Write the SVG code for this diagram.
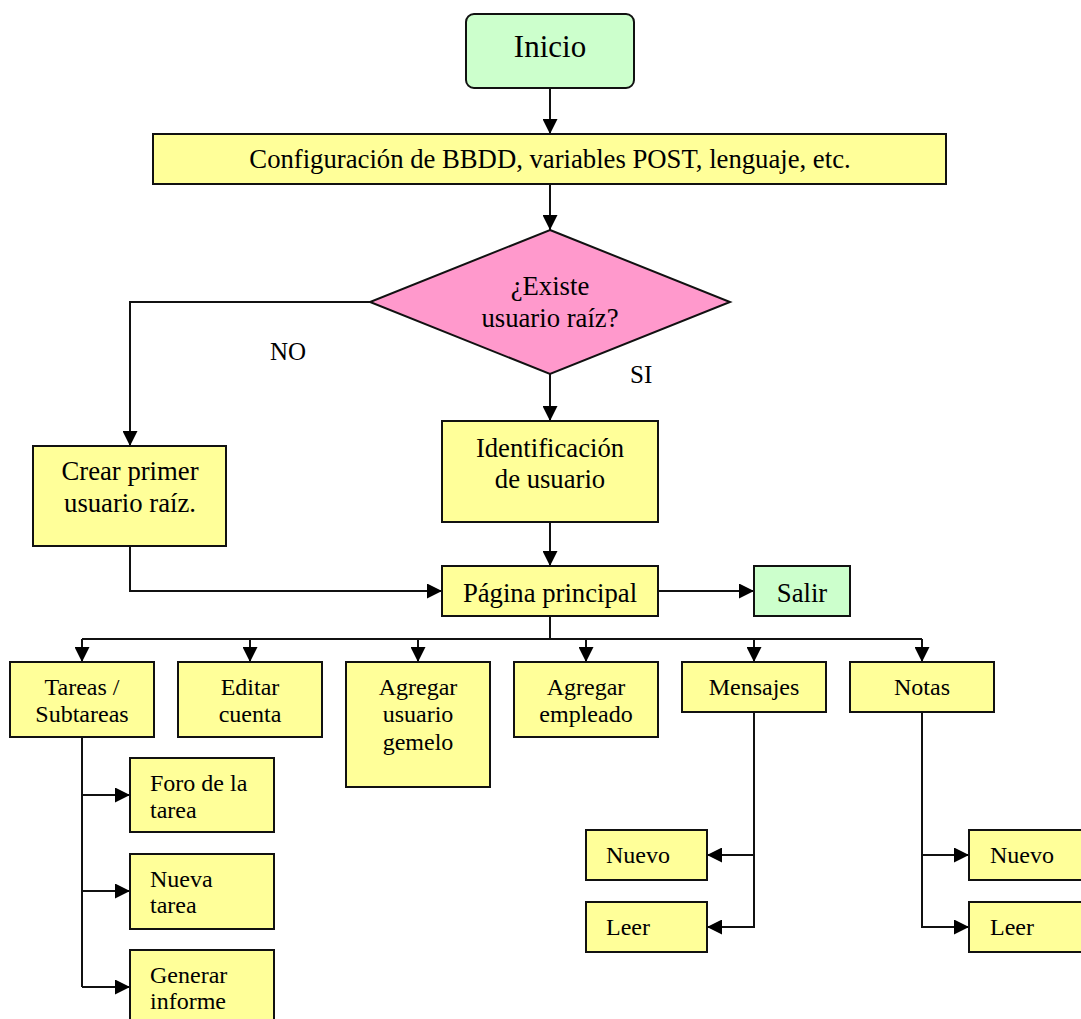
<svg xmlns="http://www.w3.org/2000/svg" width="1081" height="1019" viewBox="0 0 1081 1019">
<style>
.box{fill:#FFFF99;stroke:#111;stroke-width:2}
.green{fill:#CCFFCC;stroke:#111;stroke-width:2}
.dia{fill:#FF99CC;stroke:#111;stroke-width:2}
.t{font-family:"Liberation Serif","Times New Roman",serif;fill:#000}
.big{font-size:26.7px;text-anchor:middle}
.sm{font-size:24px;text-anchor:middle}
.sl{font-size:24px;text-anchor:start}
.lbl{font-size:25px}
.c{fill:none;stroke:#111;stroke-width:2}
</style>
<defs>
<marker id="ah" markerUnits="userSpaceOnUse" markerWidth="15" markerHeight="15" refX="15" refY="7.5" orient="auto">
<path d="M0,0 L15,7.5 L0,15 z" fill="#000"/>
</marker>
</defs>
<rect width="1081" height="1019" fill="#fff"/>
<g id="connectors">
<path class="c" d="M550,88 V134" marker-end="url(#ah)"/>
<path class="c" d="M550,184 V230" marker-end="url(#ah)"/>
<path class="c" d="M370,302 H130 V446" marker-end="url(#ah)"/>
<path class="c" d="M550,374 V421" marker-end="url(#ah)"/>
<path class="c" d="M550,522 V566" marker-end="url(#ah)"/>
<path class="c" d="M130,546 V591 H442" marker-end="url(#ah)"/>
<path class="c" d="M658,591 H754" marker-end="url(#ah)"/>
<path class="c" d="M550,616 V639 M82,639 H922"/>
<path class="c" d="M82,639 V662" marker-end="url(#ah)"/>
<path class="c" d="M250,639 V662" marker-end="url(#ah)"/>
<path class="c" d="M418,639 V662" marker-end="url(#ah)"/>
<path class="c" d="M586,639 V662" marker-end="url(#ah)"/>
<path class="c" d="M754,639 V662" marker-end="url(#ah)"/>
<path class="c" d="M922,639 V662" marker-end="url(#ah)"/>
<path class="c" d="M82,737 V987"/>
<path class="c" d="M82,795 H130" marker-end="url(#ah)"/>
<path class="c" d="M82,891 H130" marker-end="url(#ah)"/>
<path class="c" d="M82,987 H130" marker-end="url(#ah)"/>
<path class="c" d="M754,712 V927 H707" marker-end="url(#ah)"/>
<path class="c" d="M754,855 H707" marker-end="url(#ah)"/>
<path class="c" d="M922,712 V927 H969" marker-end="url(#ah)"/>
<path class="c" d="M922,855 H969" marker-end="url(#ah)"/>
</g>
<g id="labels">
<text class="t lbl" x="270" y="360">NO</text>
<text class="t lbl" x="630" y="383">SI</text>
</g>
<g id="inicio">
<rect class="green" x="466" y="14" width="168" height="74" rx="8"/>
<text class="t" x="550" y="57" font-size="31" text-anchor="middle">Inicio</text>
</g>
<g id="config">
<rect class="box" x="153" y="134" width="793" height="50"/>
<text class="t big" x="550" y="168">Configuración de BBDD, variables POST, lenguaje, etc.</text>
</g>
<g id="existe">
<polygon class="dia" points="550,230 730,302 550,374 370,302"/>
<text class="t big" x="550" y="295">¿Existe</text>
<text class="t big" x="550" y="327">usuario raíz?</text>
</g>
<g id="crear">
<rect class="box" x="33" y="446" width="193" height="100"/>
<text class="t big" x="130" y="480">Crear primer</text>
<text class="t big" x="130" y="512">usuario raíz.</text>
</g>
<g id="identificacion">
<rect class="box" x="442" y="421" width="216" height="101"/>
<text class="t big" x="550" y="457">Identificación</text>
<text class="t big" x="550" y="488">de usuario</text>
</g>
<g id="pagina">
<rect class="box" x="442" y="566" width="216" height="50"/>
<text class="t big" x="550" y="602">Página principal</text>
</g>
<g id="salir">
<rect class="green" x="754" y="566" width="96" height="50"/>
<text class="t big" x="802" y="602">Salir</text>
</g>
<g id="tareas">
<rect class="box" x="10" y="662" width="144" height="75"/>
<text class="t sm" x="82" y="695">Tareas /</text>
<text class="t sm" x="82" y="722">Subtareas</text>
</g>
<g id="editar">
<rect class="box" x="178" y="662" width="144" height="75"/>
<text class="t sm" x="250" y="695">Editar</text>
<text class="t sm" x="250" y="722">cuenta</text>
</g>
<g id="gemelo">
<rect class="box" x="346" y="662" width="144" height="125"/>
<text class="t sm" x="418" y="695">Agregar</text>
<text class="t sm" x="418" y="722">usuario</text>
<text class="t sm" x="418" y="750">gemelo</text>
</g>
<g id="empleado">
<rect class="box" x="514" y="662" width="144" height="75"/>
<text class="t sm" x="586" y="695">Agregar</text>
<text class="t sm" x="586" y="722">empleado</text>
</g>
<g id="mensajes">
<rect class="box" x="682" y="662" width="144" height="50"/>
<text class="t sm" x="754" y="695">Mensajes</text>
</g>
<g id="notas">
<rect class="box" x="850" y="662" width="144" height="50"/>
<text class="t sm" x="922" y="695">Notas</text>
</g>
<g id="foro">
<rect class="box" x="130" y="758" width="144" height="74"/>
<text class="t sl" x="150" y="791">Foro de la</text>
<text class="t sl" x="150" y="818">tarea</text>
</g>
<g id="nueva">
<rect class="box" x="130" y="854" width="144" height="75"/>
<text class="t sl" x="150" y="887">Nueva</text>
<text class="t sl" x="150" y="913">tarea</text>
</g>
<g id="informe">
<rect class="box" x="130" y="950" width="144" height="80"/>
<text class="t sl" x="150" y="983">Generar</text>
<text class="t sl" x="150" y="1009">informe</text>
</g>
<g id="msg-nuevo">
<rect class="box" x="586" y="830" width="121" height="50"/>
<text class="t sl" x="606" y="863">Nuevo</text>
</g>
<g id="msg-leer">
<rect class="box" x="586" y="902" width="121" height="50"/>
<text class="t sl" x="606" y="935">Leer</text>
</g>
<g id="notas-nuevo">
<rect class="box" x="969" y="830" width="121" height="50"/>
<text class="t sl" x="990" y="863">Nuevo</text>
</g>
<g id="notas-leer">
<rect class="box" x="969" y="902" width="121" height="50"/>
<text class="t sl" x="990" y="935">Leer</text>
</g>
</svg>
